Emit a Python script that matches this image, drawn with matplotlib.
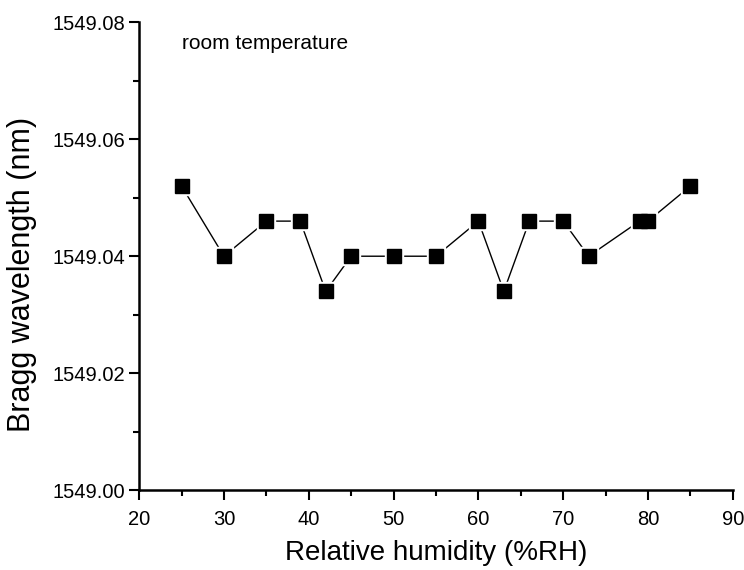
import matplotlib
matplotlib.use("Agg")
import matplotlib.pyplot as plt
from matplotlib.ticker import MultipleLocator, FormatStrFormatter

plt.rcParams['font.family'] = ['Liberation Sans', 'DejaVu Sans']

# humidity (%RH) and Bragg wavelength (nm)
humidity = [25, 30, 35, 39, 42, 45, 50, 55, 60, 63, 66, 70, 73, 79, 80, 85]
wavelength = [1549.052, 1549.040, 1549.046, 1549.046, 1549.034, 1549.040,
              1549.040, 1549.040, 1549.046, 1549.034, 1549.046, 1549.046,
              1549.040, 1549.046, 1549.046, 1549.052]

fig = plt.figure(figsize=(7.44, 5.70), dpi=100)
ax = fig.add_axes([0.187, 0.140, 0.798, 0.821])

ax.plot(humidity, wavelength, color='black', lw=1.0, zorder=2)
# white halo under markers so lines stop short of them
ax.plot(humidity, wavelength, ls='none', marker='s', ms=13,
        color='white', zorder=3)
ax.plot(humidity, wavelength, ls='none', marker='s', ms=10,
        color='black', zorder=4)

ax.set_xlim(20, 90)
ax.set_ylim(1549.00, 1549.08)
ax.xaxis.set_major_locator(MultipleLocator(10))
ax.xaxis.set_minor_locator(MultipleLocator(5))
ax.yaxis.set_major_locator(MultipleLocator(0.02))
ax.yaxis.set_minor_locator(MultipleLocator(0.01))
ax.yaxis.set_major_formatter(FormatStrFormatter('%.2f'))

for side in ['top', 'right']:
    ax.spines[side].set_visible(False)
for side in ['left', 'bottom']:
    ax.spines[side].set_linewidth(1.8)

ax.tick_params(which='major', direction='out', length=7, width=1.5,
               labelsize=14.5, pad=3)
ax.tick_params(axis='x', which='major', pad=7)
ax.tick_params(which='minor', direction='out', length=4, width=1.5)

ax.set_xlabel('Relative humidity (%RH)', fontsize=20, labelpad=8)
ax.set_ylabel('Bragg wavelength (nm)', fontsize=22)
ax.yaxis.set_label_coords(-0.172, 0.46)

ax.text(0.072, 0.955, 'room temperature', transform=ax.transAxes,
        fontsize=15, va='center', ha='left')

fig.savefig('out.png', dpi=100)
